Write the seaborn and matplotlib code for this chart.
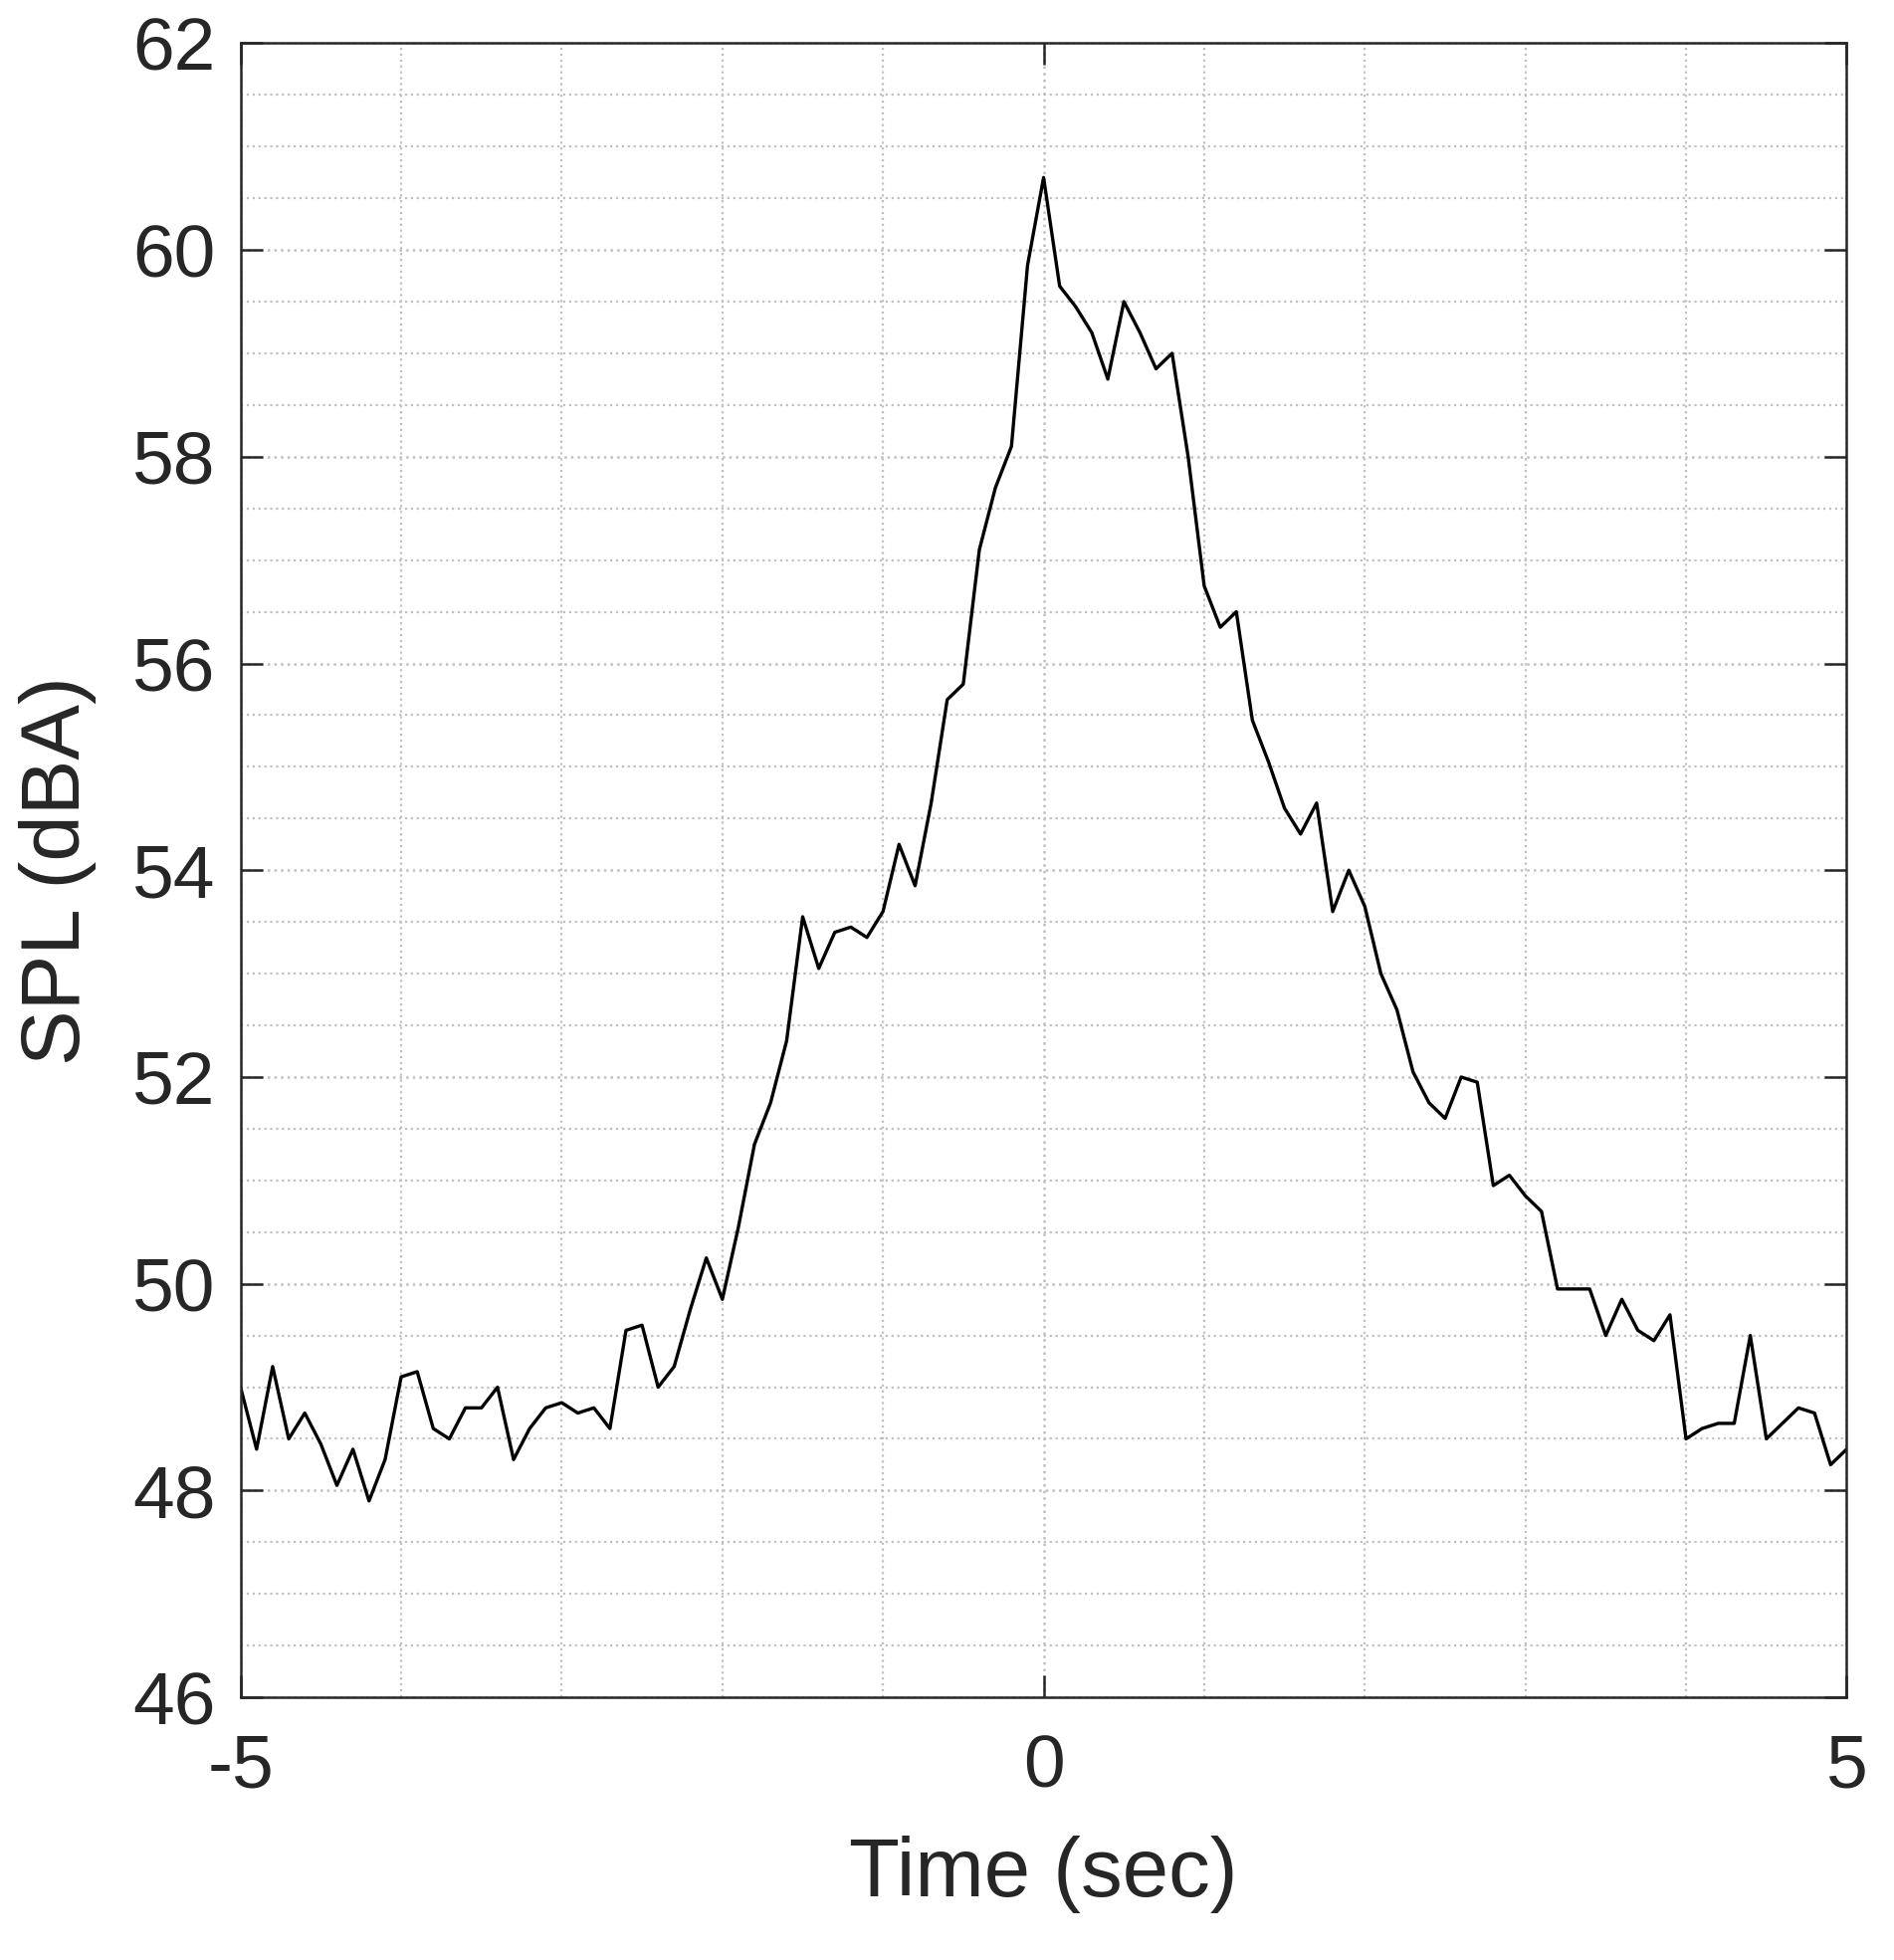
import numpy as np
import pandas as pd
import matplotlib
matplotlib.use("Agg")
import matplotlib.pyplot as plt
import seaborn as sns
from matplotlib.ticker import MultipleLocator

time_sec = [round(-5 + 0.1 * i, 1) for i in range(101)]
spl_dba = [49.0, 48.4, 49.2, 48.5, 48.75, 48.45, 48.05, 48.4, 47.9, 48.3,
           49.1, 49.15, 48.6, 48.5, 48.8, 48.8, 49.0, 48.3, 48.6, 48.8,
           48.85, 48.75, 48.8, 48.6, 49.55, 49.6, 49.0, 49.2, 49.75, 50.25,
           49.85, 50.55, 51.35, 51.75, 52.35, 53.55, 53.05, 53.4, 53.45, 53.35,
           53.6, 54.25, 53.85, 54.65, 55.65, 55.8, 57.1, 57.7, 58.1, 59.85,
           60.7, 59.65, 59.45, 59.2, 58.75, 59.5, 59.2, 58.85, 59.0, 58.0,
           56.75, 56.35, 56.5, 55.45, 55.05, 54.6, 54.35, 54.65, 53.6, 54.0,
           53.65, 53.0, 52.65, 52.05, 51.75, 51.6, 52.0, 51.95, 50.95, 51.05,
           50.85, 50.7, 49.95, 49.95, 49.95, 49.5, 49.85, 49.55, 49.45, 49.7,
           48.5, 48.6, 48.65, 48.65, 49.5, 48.5, 48.65, 48.8, 48.75, 48.25, 48.4]
x_ticks = [-5, 0, 5]
y_ticks = [46, 48, 50, 52, 54, 56, 58, 60, 62]

df = pd.DataFrame({"t": time_sec, "spl": spl_dba})

sns.set_style("white")
plt.rcParams["font.family"] = ["Liberation Sans", "DejaVu Sans"]
fig = plt.figure(figsize=(19.03, 19.69), dpi=100)
ax = fig.add_axes([0.127, 0.134, 0.848, 0.844])
sns.lineplot(data=df, x="t", y="spl", ax=ax, color="black", linewidth=2.4)

ax.set_xlim(-5, 5)
ax.set_ylim(46, 62)
ax.set_xticks(x_ticks)
ax.set_xticklabels([str(v) for v in x_ticks])
ax.set_yticks(y_ticks)
ax.xaxis.set_minor_locator(MultipleLocator(1))
ax.yaxis.set_minor_locator(MultipleLocator(0.5))
ax.grid(which="major", color="#c0c0c0", linestyle=":", linewidth=1.8)
ax.grid(which="minor", color="#c0c0c0", linestyle=":", linewidth=1.6)
ax.tick_params(which="major", direction="in", length=16, width=1.8,
               top=True, right=True, bottom=True, left=True,
               labelsize=54, colors="#262626")
ax.tick_params(axis="x", which="major", pad=26)
ax.tick_params(axis="y", which="major", pad=18)
ax.tick_params(which="minor", length=0)
for s in ax.spines.values():
    s.set_color("#262626")
    s.set_linewidth(1.8)
ax.set_xlabel("Time (sec)", fontsize=60, color="#262626", labelpad=24)
ax.set_ylabel("SPL (dBA)", fontsize=60, color="#262626", labelpad=26)
fig.savefig("out.png", dpi=100)
